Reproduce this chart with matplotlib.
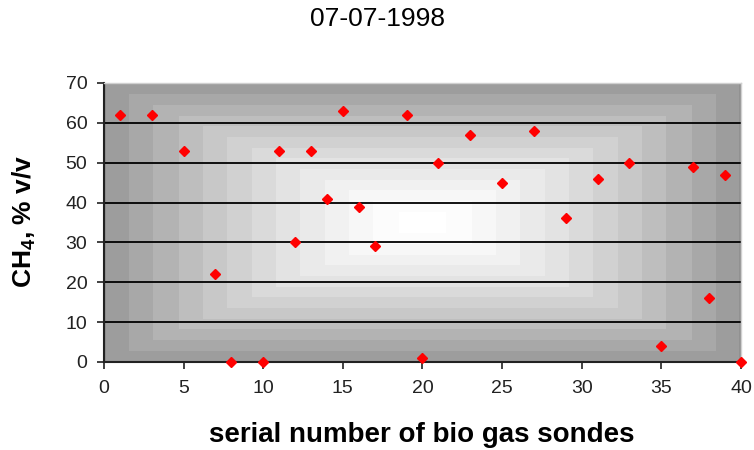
import numpy as np
import matplotlib
matplotlib.use('Agg')
import matplotlib.pyplot as plt

# sonde serial numbers and measured CH4 (% v/v), 07-07-1998
sonde = [1, 3, 5, 7, 8, 10, 11, 12, 13, 14, 15, 16, 17, 19, 20, 21, 23, 25, 27, 29,
         31, 33, 35, 37, 38, 39, 40]
ch4 = [62, 62, 53, 22, 0, 0, 53, 30, 53, 41, 63, 39, 29, 62, 1, 50, 57, 45, 58, 36,
       46, 50, 4, 49, 16, 47, 0]

xticks = list(range(0, 41, 5))
yticks = list(range(0, 71, 10))

plt.rcParams['font.family'] = ['Liberation Sans', 'DejaVu Sans']
plt.rcParams['mathtext.default'] = 'regular'

fig = plt.figure(figsize=(7.54, 4.5), dpi=100)
ax = fig.add_axes([0.1379, 0.1956, 0.8448, 0.62])

# excel style "from centre" gradient fill
n = 400
u = np.linspace(-1, 1, n)
U, V = np.meshgrid(u, u)
d = np.maximum(np.abs(U), np.abs(V))
d = np.floor(d * 13) / 13
bg = 1 - 0.43 * d ** 1.4
ax.imshow(bg, cmap='gray', vmin=0, vmax=1, extent=[0, 40, 0, 70],
          aspect='auto', zorder=0, interpolation='nearest')

for yv in yticks[1:-1]:
    ax.axhline(yv, color='black', lw=1.3, zorder=1)

ax.plot(sonde, ch4, 'D', color='red', mec='red', ms=5, clip_on=False, zorder=3)

ax.set_xlim(0, 40)
ax.set_ylim(0, 70)
ax.set_xticks(xticks)
ax.set_yticks(yticks)
ax.tick_params(direction='out', length=5, width=1.3, color='#333333',
               labelsize=14, pad=7, labelcolor='#222222')
ax.tick_params(axis='x', pad=8)

for s in ['left', 'bottom']:
    ax.spines[s].set_color('#222222')
    ax.spines[s].set_linewidth(1.5)
for s in ['top', 'right']:
    ax.spines[s].set_color('#d0d0d0')
    ax.spines[s].set_linewidth(1)

fig.text(0.501, 0.958, '07-07-1998', ha='center', va='center', fontsize=19)
fig.text(0.5597, 0.018, 'serial number of bio gas sondes', ha='center',
         va='baseline', fontsize=20, fontweight='bold')
fig.text(0.032, 0.507, 'CH$_4$, % v/v', ha='center', va='center', rotation=90,
         fontsize=19, fontweight='bold')

fig.savefig('out.png', dpi=100)
